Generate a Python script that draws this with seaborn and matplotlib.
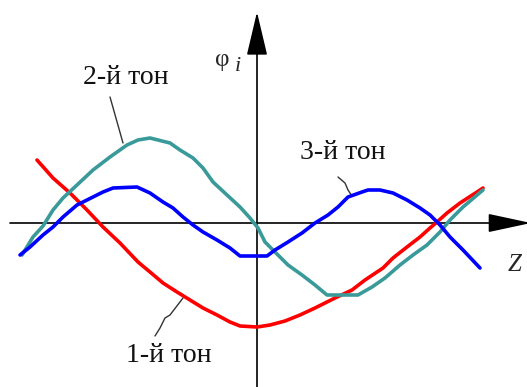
import matplotlib
matplotlib.use("Agg")
import matplotlib.pyplot as plt
import seaborn as sns
from matplotlib.patches import ArrowStyle

sns.set_theme(style="white")
plt.rcParams["font.family"] = ["Liberation Serif", "DejaVu Serif"]

# Mode shapes phi_i(z) of the first three tones
z_tone1 = [-2.20, -2.04, -1.87, -1.70, -1.54, -1.37, -1.19, -1.07, -0.94, -0.80,
           -0.67, -0.54, -0.40, -0.27, -0.17, 0.00, 0.13, 0.28, 0.43, 0.58,
           0.78, 0.95, 1.08, 1.26, 1.36, 1.50, 1.63, 1.73, 1.80, 1.90,
           2.03, 2.20, 2.26]
phi_tone1 = [0.63, 0.45, 0.30, 0.13, -0.04, -0.20, -0.39, -0.49, -0.60, -0.69,
             -0.77, -0.85, -0.92, -0.99, -1.03, -1.04, -1.02, -0.98, -0.92, -0.85,
             -0.75, -0.67, -0.57, -0.45, -0.35, -0.24, -0.14, -0.05, 0.01, 0.10,
             0.20, 0.31, 0.35]

z_tone2 = [-2.35, -2.24, -2.14, -2.04, -1.94, -1.80, -1.64, -1.47, -1.30, -1.19,
           -1.07, -0.87, -0.77, -0.64, -0.54, -0.44, -0.30, -0.17, -0.07, 0.01,
           0.08, 0.18, 0.31, 0.45, 0.58, 0.70, 1.01, 1.15, 1.28, 1.43,
           1.56, 1.70, 1.83, 1.93, 2.06, 2.26]
phi_tone2 = [-0.32, -0.14, -0.03, 0.13, 0.25, 0.38, 0.53, 0.66, 0.78, 0.83,
             0.85, 0.80, 0.73, 0.65, 0.55, 0.41, 0.28, 0.16, 0.05, -0.05,
             -0.19, -0.29, -0.42, -0.52, -0.62, -0.72, -0.72, -0.64, -0.55, -0.42,
             -0.32, -0.22, -0.09, 0.03, 0.16, 0.33]

z_tone3 = [-2.37, -2.27, -2.14, -2.04, -1.94, -1.80, -1.64, -1.54, -1.44, -1.20,
           -1.07, -0.94, -0.84, -0.74, -0.64, -0.54, -0.40, -0.27, -0.17, 0.10,
           0.18, 0.31, 0.45, 0.58, 0.71, 0.81, 0.91, 1.05, 1.11, 1.23,
           1.36, 1.50, 1.63, 1.73, 1.83, 1.93, 2.06, 2.23]
phi_tone3 = [-0.32, -0.24, -0.12, -0.04, 0.06, 0.18, 0.26, 0.31, 0.35, 0.36,
             0.30, 0.21, 0.15, 0.06, -0.02, -0.09, -0.17, -0.25, -0.33, -0.33,
             -0.27, -0.19, -0.10, 0.00, 0.08, 0.16, 0.26, 0.31, 0.33, 0.33,
             0.30, 0.23, 0.15, 0.08, -0.02, -0.14, -0.27, -0.45]

tone_labels = ["1-й тон", "2-й тон", "3-й тон"]
tone_colors = ["#ff0000", "#3a9a9a", "#0000ff"]

fig = plt.figure(figsize=(5.27, 3.87), dpi=100)
ax = fig.add_axes([0, 0, 1, 1])
ax.set_xlim(-2.57, 2.70)
ax.set_ylim(-1.64, 2.23)
ax.axis("off")

# Coordinate axes with arrowheads
ax.annotate("", xy=(2.74, 0), xytext=(-2.47, 0), annotation_clip=False,
            arrowprops=dict(arrowstyle=ArrowStyle("-|>", head_length=2.7, head_width=0.58),
                            mutation_scale=10, color="black", lw=1.2,
                            shrinkA=0, shrinkB=0))
ax.annotate("", xy=(0, 2.11), xytext=(0, -1.66), annotation_clip=False,
            arrowprops=dict(arrowstyle=ArrowStyle("-|>", head_length=2.75, head_width=0.65),
                            mutation_scale=10, color="black", lw=1.2,
                            shrinkA=0, shrinkB=0))

for z, phi, c in zip([z_tone1, z_tone2, z_tone3],
                     [phi_tone1, phi_tone2, phi_tone3], tone_colors):
    sns.lineplot(x=z, y=phi, sort=False, color=c, lw=2.6, ax=ax, zorder=3)

txt = dict(fontsize=20, color="#111111", ha="center", va="center")
ax.text(-1.31, 1.46, tone_labels[1], **txt)
ax.text(0.86, 0.71, tone_labels[2], **txt)
ax.text(-0.88, -1.33, tone_labels[0], **txt)

# Leader lines from labels to curves
lead = dict(color="#333333", lw=1.0)
ax.plot([-1.47, -1.34], [1.26, 0.80], **lead)
ax.plot([0.81, 0.88, 0.91, 0.95], [0.46, 0.40, 0.33, 0.27], **lead)
ax.plot([-1.02, -0.97, -0.92, -0.87, -0.74], [-1.13, -1.05, -0.95, -0.92, -0.75], **lead)

ax.text(-0.35, 1.63, "φ", fontsize=18, ha="center", va="center")
ax.text(-0.19, 1.57, "i", fontsize=16, style="italic", ha="center", va="center")
ax.text(2.58, -0.42, "Z", fontsize=18, style="italic", ha="center", va="center")

fig.savefig("out.png", dpi=100)
